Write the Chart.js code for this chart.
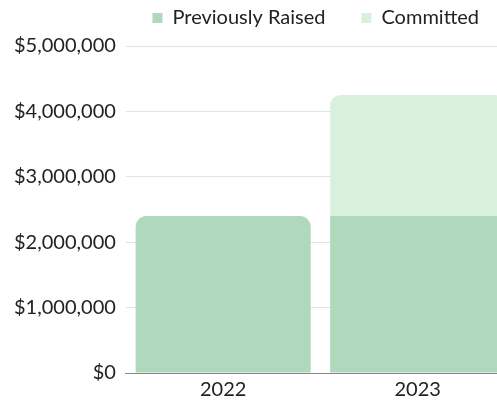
<!DOCTYPE html>
<html lang="en">
  <head>
    <meta charset="UTF-8" />
    <title>Funds Raised</title>
    <script src="https://cdn.jsdelivr.net/npm/chart.js"></script>
    <style>
      body {
        margin: 0;
        overflow: hidden;
        background: #fff;
      }
      .container {
        width: 515px;
        height: 402px;
      }
    </style>
  </head>
  <body>
    <div class="container">
      <canvas id="graficoFundos"></canvas>
    </div>

    <script>
      const anos = ["2022", "2023"];
      const previouslyRaised = [2400000, 2400000];
      const committed = [null, 1850000];
      const yTicks = [0, 1000000, 2000000, 3000000, 4000000, 5000000];

      // extra space under the legend
      const legendMargin = {
        id: "legendMargin",
        beforeInit(chart) {
          const fitValue = chart.legend.fit;
          chart.legend.fit = function fit() {
            fitValue.bind(chart.legend)();
            return (this.height += 8);
          };
        },
      };

      const fonte = { family: "Lato, sans-serif", size: 20 };

      const ctx = document.getElementById("graficoFundos").getContext("2d");
      new Chart(ctx, {
        type: "bar",
        data: {
          labels: anos,
          datasets: [
            {
              label: "Previously Raised",
              data: previouslyRaised,
              backgroundColor: "rgb(175,216,189)",
              borderRadius: 11,
              borderSkipped: "start",
            },
            {
              label: "Committed",
              data: committed,
              backgroundColor: "rgb(217,241,220)",
              borderRadius: 11,
              borderSkipped: "start",
            },
          ],
        },
        options: {
          responsive: true,
          maintainAspectRatio: false,
          animation: false,
          layout: { padding: { top: -28, left: 4, right: 0, bottom: -5 } },
          datasets: { bar: { categoryPercentage: 1, barPercentage: 0.9 } },
          plugins: {
            legend: {
              align: "end",
              labels: {
                boxWidth: 10,
                boxHeight: 10,
                padding: 36,
                color: "#222",
                font: fonte,
              },
            },
            tooltip: { enabled: false },
          },
          scales: {
            x: {
              stacked: true,
              grid: { display: false, drawTicks: false },
              border: { display: true, color: "#888" },
              ticks: { color: "#222", font: fonte, padding: 5 },
            },
            y: {
              stacked: true,
              min: 0,
              max: 5000000,
              afterBuildTicks: (axis) => {
                axis.ticks = yTicks.map((v) => ({ value: v }));
              },
              grid: { color: "#e2e2e2", drawTicks: false },
              border: { display: false },
              ticks: {
                color: "#222",
                font: fonte,
                padding: 10,
                callback: (v) => "$" + v.toLocaleString("en-US"),
              },
            },
          },
        },
        plugins: [legendMargin],
      });
    </script>
  </body>
</html>
